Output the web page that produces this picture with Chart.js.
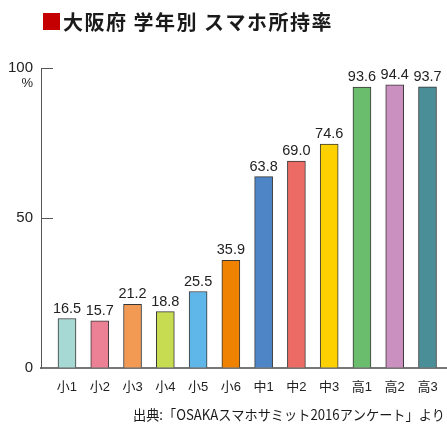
<!DOCTYPE html>
<html><head><meta charset="utf-8">
<script src="https://cdn.jsdelivr.net/npm/chart.js@4/dist/chart.umd.min.js"></script>
<style>html,body{margin:0;padding:0;background:#fff}#w{width:447px;height:425px;position:relative}</style>
</head><body><div id="w"><canvas id="c"></canvas></div>
<script>
const titleText = '大阪府 学年別 スマホ所持率';
const sourceText = '出典:「OSAKAスマホサミット2016アンケート」より';
const categories = ['小1','小2','小3','小4','小5','小6','中1','中2','中3','高1','高2','高3'];
const values = [16.5,15.7,21.2,18.8,25.5,35.9,63.8,69.0,74.6,93.6,94.4,93.7];
const barColors = ['#a6d9d4','#ec8196','#f29a53','#c8dc52','#5fb6e8','#ef8200','#4e85c6','#ec6b64','#fdd000','#6bbd6e','#c990c0','#4a8e98'];
const yTicks = [0,50,100];
const yUnit = '%';

const LAT = '"Liberation Sans", Arial, "Noto Sans CJK JP", sans-serif';
const CJK = '"Noto Sans CJK JP", sans-serif';

const decor = {
  id: 'decor',
  afterDraw(chart) {
    const ctx = chart.ctx;
    ctx.save();
    // title
    ctx.fillStyle = '#c40000';
    ctx.fillRect(43, 13, 17, 17);
    ctx.fillStyle = '#1a1a1a';
    ctx.font = 'bold 20px ' + CJK;
    ctx.textBaseline = 'middle';
    ctx.textAlign = 'left';
    const w = ctx.measureText(titleText).width;
    const extra = (270 - w) / titleText.length;
    if ('letterSpacing' in ctx && extra > 0) ctx.letterSpacing = extra.toFixed(2) + 'px';
    ctx.fillText(titleText, 63, 22);
    if ('letterSpacing' in ctx) ctx.letterSpacing = '0px';
    // unit
    const ys = chart.scales.y;
    ctx.font = '13px ' + LAT;
    ctx.fillStyle = '#222';
    ctx.textAlign = 'right';
    ctx.fillText(yUnit, 33, ys.getPixelForValue(100) + 15);
    // value labels
    ctx.font = '14.5px ' + LAT;
    ctx.textAlign = 'center';
    ctx.textBaseline = 'alphabetic';
    ctx.fillStyle = '#222';
    chart.getDatasetMeta(0).data.forEach((bar, i) => {
      ctx.fillText(values[i].toFixed(1), bar.x, bar.y - 6);
    });
    // source
    ctx.font = '14px ' + CJK;
    ctx.textAlign = 'left';
    ctx.textBaseline = 'middle';
    ctx.fillStyle = '#1a1a1a';
    ctx.fillText(sourceText, 133, 415, 312);
    ctx.restore();
  }
};

new Chart(document.getElementById('c'), {
  type: 'bar',
  data: {
    datasets: [{
      data: values.map((v, i) => ({x: i, y: v})),
      backgroundColor: barColors,
      borderColor: 'rgba(20,20,20,0.85)',
      borderWidth: 1,
      borderSkipped: 'bottom',
      barThickness: 18
    }]
  },
  options: {
    responsive: true,
    maintainAspectRatio: false,
    animation: false,
    devicePixelRatio: 1,
    layout: {padding: {top: 68, bottom: 17, left: 0, right: 0}},
    plugins: {legend: {display: false}, tooltip: {enabled: false}, title: {display: false}},
    scales: {
      x: {
        type: 'linear',
        offset: false,
        min: -0.793,
        max: 11.595,
        afterBuildTicks: s => { s.ticks = categories.map((c, i) => ({value: i})); },
        afterFit: s => { s.height = 40; },
        grid: {display: false},
        border: {display: true, color: '#777', width: 2},
        ticks: {
          autoSkip: false,
          maxRotation: 0,
          padding: 4,
          color: '#222',
          font: {size: 13, family: LAT},
          callback: v => categories[v] ?? ''
        }
      },
      y: {
        min: 0,
        max: 100,
        afterBuildTicks: s => { s.ticks = yTicks.map(v => ({value: v})); },
        afterFit: s => { s.width = 41; },
        grid: {display: true, drawOnChartArea: false, drawTicks: true, tickLength: -12, tickColor: '#555', tickWidth: 1},
        border: {display: true, color: '#555', width: 1},
        ticks: {padding: 20, color: '#222', font: {size: 15, family: LAT}}
      }
    }
  },
  plugins: [decor]
});
</script>
</body></html>
